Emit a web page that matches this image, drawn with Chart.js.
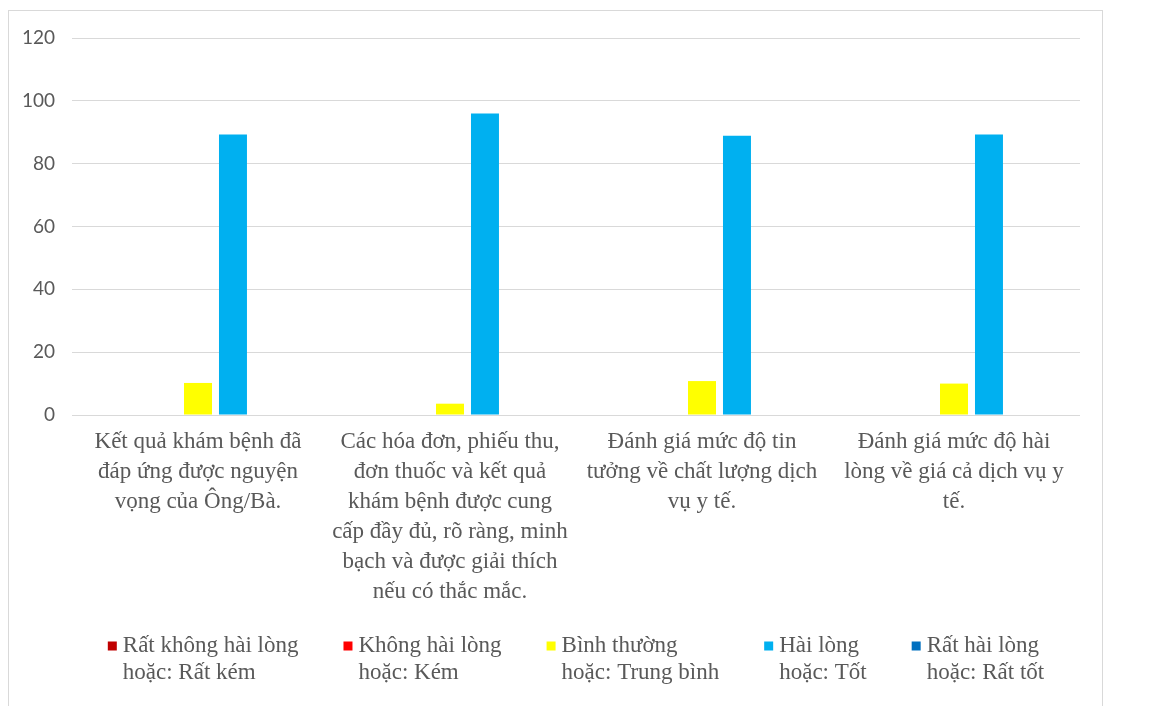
<!DOCTYPE html>
<html lang="vi">
<head>
<meta charset="utf-8">
<title>Mức độ hài lòng</title>
<script src="https://cdn.jsdelivr.net/npm/chart.js@4.4.0/dist/chart.umd.min.js"></script>
<style>
    html, body { margin: 0; padding: 0; background: #fff; }
    #wrap { position: relative; width: 1163px; height: 706px; }
</style>
</head>
<body>
<div id="wrap"><canvas id="hailongChart"></canvas></div>
<script>
// nhãn các câu hỏi (mỗi phần tử là một dòng)
const categories = [
    ['Kết quả khám bệnh đã', 'đáp ứng được nguyện', 'vọng của Ông/Bà.'],
    ['Các hóa đơn, phiếu thu,', 'đơn thuốc và kết quả', 'khám bệnh được cung', 'cấp đầy đủ, rõ ràng, minh', 'bạch và được giải thích', 'nếu có thắc mắc.'],
    ['Đánh giá mức độ tin', 'tưởng về chất lượng dịch', 'vụ y tế.'],
    ['Đánh giá mức độ hài', 'lòng về giá cả dịch vụ y', 'tế.']
];

const seriesNames = [
    ['Rất không hài lòng', 'hoặc: Rất kém'],
    ['Không hài lòng', 'hoặc: Kém'],
    ['Bình thường', 'hoặc: Trung bình'],
    ['Hài lòng', 'hoặc: Tốt'],
    ['Rất hài lòng', 'hoặc: Rất tốt']
];

// tỷ lệ (%) theo từng mức
const ratKem = [0, 0, 0, 0];
const kem = [0, 0, 0, 0];
const binhThuong = [10.2, 3.6, 10.8, 10.0];
const tot = [89.3, 96.0, 88.9, 89.3];
const ratTot = [0, 0, 0, 0];

const yTicks = [0, 20, 40, 60, 80, 100, 120];

const colors = ['#C00000', '#FF0000', '#FFFF00', '#00B0F0', '#0070C0'];

const serif = '"Liberation Serif", "Times New Roman", serif';

// khung viền xám quanh biểu đồ
const khungVien = {
    id: 'khungVien',
    beforeDraw(chart) {
        const ctx = chart.ctx;
        ctx.save();
        ctx.fillStyle = '#ffffff';
        ctx.fillRect(0, 0, chart.width, chart.height);
        ctx.strokeStyle = '#d9d9d9';
        ctx.lineWidth = 1;
        ctx.strokeRect(8.5, 10.5, 1094, 720);
        ctx.restore();
    }
};

// chú thích hai dòng ở dưới trục x
const chuThich = {
    id: 'chuThich',
    afterDraw(chart, args, opts) {
        const ctx = chart.ctx;
        const area = chart.chartArea;
        const box = 9, gapText = 6, gapItem = 45, lineH = 27;
        ctx.save();
        ctx.font = '23px ' + serif;
        ctx.textBaseline = 'middle';
        ctx.textAlign = 'left';
        const items = chart.data.datasets.map((ds, i) => {
            const w = Math.max(...seriesNames[i].map(t => ctx.measureText(t).width));
            return { color: ds.backgroundColor, lines: seriesNames[i], width: box + gapText + w };
        });
        const total = items.reduce((s, it) => s + it.width, 0) + gapItem * (items.length - 1);
        let x = (area.left + area.right) / 2 - total / 2;
        const y = chart.scales.x.bottom + 40;
        items.forEach(it => {
            ctx.fillStyle = it.color;
            ctx.fillRect(x, y - box / 2, box, box);
            ctx.fillStyle = '#595959';
            it.lines.forEach((t, k) => ctx.fillText(t, x + box + gapText, y + k * lineH));
            x += it.width + gapItem;
        });
        ctx.restore();
    }
};

document.addEventListener('DOMContentLoaded', function() {
    const ctx = document.getElementById('hailongChart').getContext('2d');
    const allData = [ratKem, kem, binhThuong, tot, ratTot];

    new Chart(ctx, {
        type: 'bar',
        data: {
            labels: categories,
            datasets: allData.map((d, i) => ({
                label: seriesNames[i].join(' '),
                data: d,
                backgroundColor: colors[i],
                borderWidth: 0,
                barPercentage: 0.8,
                categoryPercentage: 0.694
            }))
        },
        options: {
            responsive: true,
            maintainAspectRatio: false,
            animation: false,
            layout: {
                padding: { top: 38, right: 83, left: 0, bottom: 100 }
            },
            plugins: {
                tooltip: { enabled: false },
                legend: { display: false }
            },
            scales: {
                x: {
                    grid: { display: false, drawTicks: false },
                    border: { display: false },
                    ticks: {
                        autoSkip: false,
                        maxRotation: 0,
                        padding: 12,
                        color: '#595959',
                        font: { family: serif, size: 23, lineHeight: '30px' }
                    },
                    afterFit(scale) { scale.height = 191; }
                },
                y: {
                    min: 0,
                    max: 120,
                    afterBuildTicks(scale) {
                        scale.ticks = yTicks.map(v => ({ value: v }));
                    },
                    grid: { color: '#d9d9d9', lineWidth: 1, drawTicks: false },
                    border: { display: false },
                    ticks: {
                        padding: 17,
                        color: '#595959',
                        font: { family: 'Lato, "Open Sans", sans-serif', size: 19 }
                    },
                    afterFit(scale) { scale.width = 72; }
                }
            }
        },
        plugins: [khungVien, chuThich]
    });
});
</script>
</body>
</html>
